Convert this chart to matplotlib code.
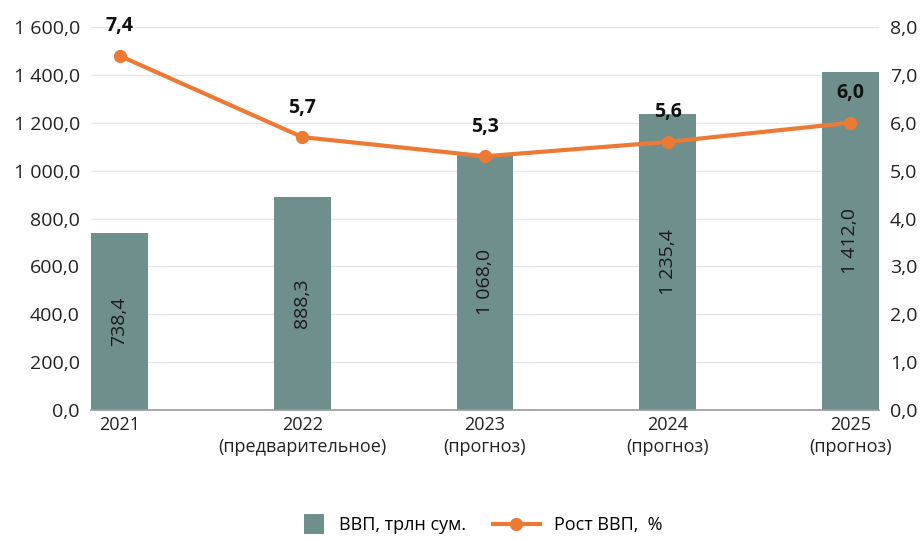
import matplotlib
matplotlib.use("Agg")
import numpy as np
from matplotlib import pyplot as plt
from matplotlib.ticker import FuncFormatter
from matplotlib.patches import Rectangle
from matplotlib.legend_handler import HandlerPatch

plt.rcParams['font.family'] = ['Open Sans', 'DejaVu Sans']

years = ['2021', '2022\n(предварительное)', '2023\n(прогноз)', '2024\n(прогноз)', '2025\n(прогноз)']
gdp = [738.4, 888.3, 1068.0, 1235.4, 1412.0]
growth = [7.4, 5.7, 5.3, 5.6, 6.0]

bar_color = '#6f8f8c'
line_color = '#ec7a34'


def ru_num(v, pos=None):
    # 1 600,0 — пробел для тысяч, запятая для десятых
    s = '{:,.1f}'.format(v).replace(',', ' ').replace('.', ',')
    return s


def square_patch(legend, orig_handle, xdescent, ydescent, width, height, fontsize):
    # квадратный маркер для столбцов в легенде
    side = height * 1.6
    return Rectangle((width - side - xdescent, -ydescent + (height - side) / 2), side, side)


fig = plt.figure(figsize=(9.22, 5.41), dpi=100)
ax = fig.add_axes([91 / 922, 1 - 410 / 541, 788 / 922, 383 / 541])
x = np.arange(len(years))

bars = ax.bar(x, gdp, width=0.31, color=bar_color, label='ВВП, трлн сум.', zorder=2)
for xi, v in zip(x, gdp):
    ax.text(xi, v / 2, ru_num(v), rotation=90, ha='center', va='center',
            fontsize=14, color='#1a1a1a', zorder=3)

ax.set_xlim(-0.156, len(years) - 1 + 0.156)
ax.set_ylim(0, 1600)
ax.set_yticks(np.arange(0, 1601, 200))
ax.yaxis.set_major_formatter(FuncFormatter(ru_num))
ax.set_xticks(x)
ax.set_xticklabels(years, fontsize=13, color='#222222', linespacing=1.3)
ax.tick_params(axis='y', labelsize=14, labelcolor='#222222', length=0, pad=8)
ax.tick_params(axis='x', length=0, pad=4)
ax.grid(axis='y', color='#e6e6e6', linewidth=1, zorder=0)
ax.set_axisbelow(True)
for s in ['top', 'right', 'left']:
    ax.spines[s].set_visible(False)
ax.spines['bottom'].set_color('#999999')
ax.spines['bottom'].set_linewidth(1.2)

ax2 = ax.twinx()
line, = ax2.plot(x, growth, color=line_color, linewidth=3, marker='o', markersize=8.5,
                 label='Рост ВВП,  %', zorder=4)
for xi, v in zip(x, growth):
    ax2.annotate(ru_num(v), (xi, v), xytext=(0, 14), textcoords='offset points',
                 ha='center', va='bottom', fontsize=14, fontweight='bold', color='#111111')
ax2.set_ylim(0, 8)
ax2.set_yticks(np.arange(0, 8.1, 1))
ax2.yaxis.set_major_formatter(FuncFormatter(ru_num))
ax2.tick_params(axis='y', labelsize=14, labelcolor='#222222', length=0, pad=8)
for s in ['top', 'right', 'left', 'bottom']:
    ax2.spines[s].set_visible(False)

fig.legend([bars.patches[0], line], ['ВВП, трлн сум.', 'Рост ВВП,  %'], loc='center',
           bbox_to_anchor=(470 / 922, 1 - 525 / 541),
           ncol=2, frameon=False, fontsize=13, handlelength=2.6, columnspacing=1.5,
           handler_map={Rectangle: HandlerPatch(patch_func=square_patch)})

plt.savefig('out.png', dpi=100)
